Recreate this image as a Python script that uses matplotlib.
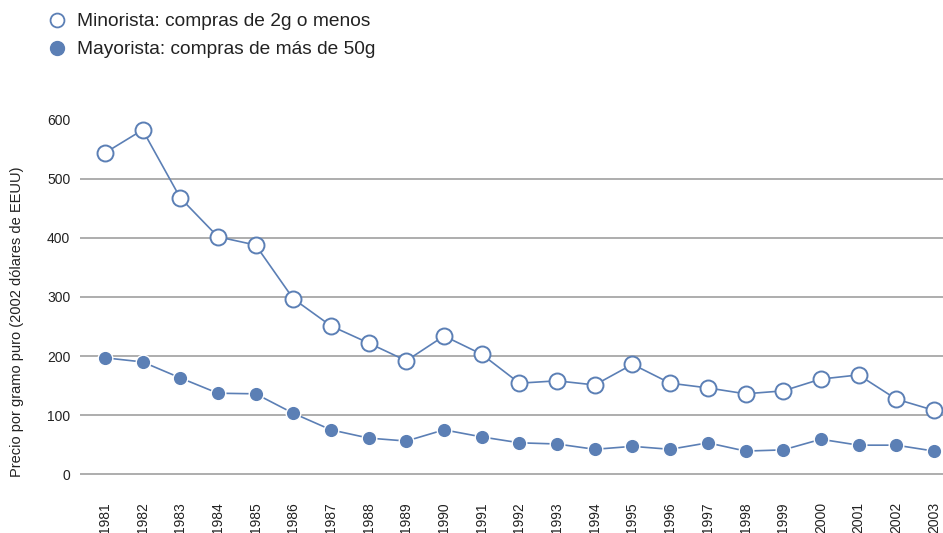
import matplotlib.pyplot as plt
from matplotlib.lines import Line2D

plt.rcParams['font.family'] = ['Liberation Sans', 'DejaVu Sans']

anios = list(range(1981, 2004))
minorista = [544, 583, 468, 402, 388, 297, 251, 222, 192, 234, 203, 154,
             158, 151, 186, 154, 146, 136, 141, 161, 168, 127, 108]
mayorista = [197, 190, 163, 137, 136, 103, 75, 61, 56, 75, 63, 53,
             51, 42, 47, 42, 53, 39, 41, 59, 49, 49, 39]
yticks = [0, 100, 200, 300, 400, 500, 600]
etiquetas = ["Minorista: compras de 2g o menos", "Mayorista: compras de más de 50g"]

azul = "#5b7fb5"
gris = "#a0a0a0"
texto = "#222222"

fig = plt.figure(figsize=(9.43, 5.33), dpi=100)
ax = fig.add_axes([80 / 943, 53 / 533, 863 / 943, 366 / 533])

ax.plot(anios, mayorista, color=azul, lw=1.2, marker="o", ms=10.5,
        mfc=azul, mec="white", mew=1.0, zorder=3, clip_on=False)
ax.plot(anios, minorista, color=azul, lw=1.2, marker="o", ms=11.5,
        mfc="white", mec=azul, mew=1.4, zorder=4, clip_on=False)

ax.set_xlim(1980.34, 2003.24)
ax.set_ylim(-10, 610)
ax.set_yticks(yticks)
ax.set_xticks(anios)
ax.set_xticklabels([str(a) for a in anios], rotation=90, va="top")
ax.tick_params(axis="both", length=0, labelsize=10, colors=texto)
ax.tick_params(axis="y", pad=7)
ax.tick_params(axis="x", pad=16)

for v in yticks[:-1]:
    ax.axhline(v, color=gris, lw=1.2, zorder=1)

for s in ax.spines.values():
    s.set_visible(False)

fig.text(17 / 943, 1 - 322 / 533, "Precio por gramo puro (2002 dólares de EEUU)",
         rotation=90, ha="center", va="center", fontsize=10.5, color=texto)

handles = [
    Line2D([], [], ls="none", marker="o", ms=10, mfc="white", mec=azul, mew=1.3),
    Line2D([], [], ls="none", marker="o", ms=10, mfc=azul, mec=azul),
]
fig.legend(handles, etiquetas, loc="upper left", bbox_to_anchor=(28 / 943, 1.008),
           frameon=False, fontsize=13.8, handletextpad=0.45, labelspacing=0.55,
           handlelength=1.2, labelcolor=texto)

fig.savefig("out.png", dpi=100)
